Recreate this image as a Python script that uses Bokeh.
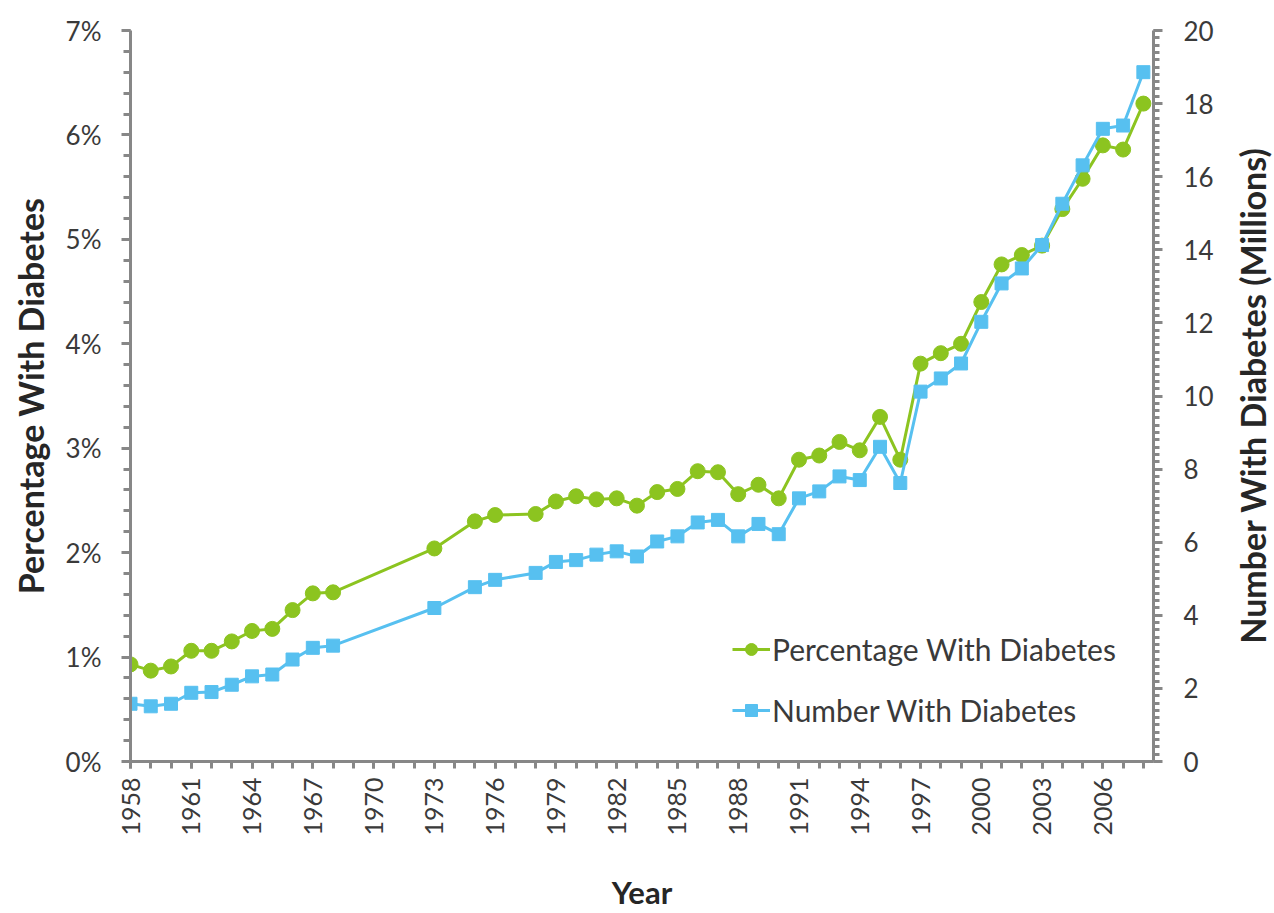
from bokeh.plotting import figure
from bokeh.layouts import row
from bokeh.models import (Range1d, LinearAxis, FixedTicker, PrintfTickFormatter,
                          Legend, LegendItem, ColumnDataSource)
from bokeh.core.properties import value
from bokeh.embed import file_html
from bokeh.resources import INLINE
import math

# ---------------- data ----------------
years = [1958, 1959, 1960, 1961, 1962, 1963, 1964, 1965, 1966, 1967, 1968,
         1973, 1975, 1976,
         1978, 1979, 1980, 1981, 1982, 1983, 1984, 1985, 1986, 1987, 1988,
         1989, 1990, 1991, 1992, 1993, 1994, 1995, 1996, 1997, 1998, 1999,
         2000, 2001, 2002, 2003, 2004, 2005, 2006, 2007, 2008]
pct_with_diabetes = [0.93, 0.87, 0.91, 1.06, 1.06, 1.15, 1.25, 1.27, 1.45, 1.61, 1.62,
                     2.04, 2.30, 2.36,
                     2.37, 2.49, 2.54, 2.51, 2.52, 2.45, 2.58, 2.61, 2.78, 2.77, 2.56,
                     2.65, 2.52, 2.89, 2.93, 3.06, 2.98, 3.30, 2.89, 3.81, 3.91, 4.00,
                     4.40, 4.76, 4.85, 4.94, 5.29, 5.58, 5.90, 5.86, 6.30]
num_with_diabetes = [1.58, 1.51, 1.58, 1.88, 1.90, 2.10, 2.33, 2.38, 2.79, 3.11, 3.17,
                     4.20, 4.77, 4.97,
                     5.16, 5.46, 5.51, 5.66, 5.75, 5.61, 6.02, 6.16, 6.54, 6.61, 6.16,
                     6.50, 6.22, 7.20, 7.39, 7.80, 7.70, 8.61, 7.62, 10.12, 10.48, 10.89,
                     12.03, 13.08, 13.49, 14.13, 15.26, 16.31, 17.31, 17.40, 18.86]

x_tick_years = list(range(1958, 2007, 3))
x_minor_years = list(range(1958, 2009))
left_ticks = [0, 1, 2, 3, 4, 5, 6, 7]
right_ticks = [0, 2, 4, 6, 8, 10, 12, 14, 16, 18, 20]

series_names = ["Percentage With Diabetes", "Number With Diabetes"]
x_title = "Year"
left_title = "Percentage With Diabetes"
right_title = "Number With Diabetes (Millions)"

# ---------------- style ----------------
GREEN = "#8CC420"
BLUE = "#57C0F0"
AXIS = "#878787"
TXT = "#3a3a3a"
TITLE = "#262626"
FONT = "Lato"

src = ColumnDataSource(dict(year=years, pct=pct_with_diabetes, num=num_with_diabetes))

MAIN_W = 1224
SIDE_W = 50
H = 913

p = figure(width=MAIN_W, height=H, output_backend="svg", toolbar_location=None,
           x_range=Range1d(1958, 2008.5), y_range=Range1d(0, 7),
           min_border_left=130, min_border_right=MAIN_W - 1153, min_border_top=30,
           min_border_bottom=151)
p.extra_y_ranges = {"num": Range1d(0, 20)}
p.outline_line_color = None
p.xgrid.visible = False
p.ygrid.visible = False
p.background_fill_color = "white"
p.border_fill_color = "white"

def style_axis(ax):
    ax.axis_line_color = AXIS
    ax.axis_line_width = 3
    ax.major_tick_line_color = AXIS
    ax.minor_tick_line_color = AXIS
    ax.major_tick_line_width = 3
    ax.minor_tick_line_width = 3
    ax.major_tick_in = 0
    ax.minor_tick_in = 0
    ax.major_label_text_font = FONT
    ax.major_label_text_color = TXT
    ax.major_label_text_font_size = "26px"
    ax.axis_label_text_font = FONT
    ax.axis_label_text_font_style = "bold"
    ax.axis_label_text_color = TITLE
    ax.axis_label_text_font_size = "33px"

# bottom axis
xa = p.xaxis[0]
style_axis(xa)
xa.ticker = FixedTicker(ticks=x_tick_years, minor_ticks=x_minor_years)
xa.major_tick_out = 7
xa.minor_tick_out = 7
xa.major_label_orientation = math.pi / 2
xa.major_label_standoff = 9
xa.major_label_text_font_size = "25px"
xa.axis_label = x_title
xa.axis_label_text_font_size = "31px"
xa.axis_label_standoff = 34

# left axis
ya = p.yaxis[0]
style_axis(ya)
ya.ticker = FixedTicker(ticks=left_ticks,
                        minor_ticks=[round(i * 0.2, 1) for i in range(0, 36)])
ya.formatter = PrintfTickFormatter(format="%d%%")
ya.major_tick_out = 9
ya.minor_tick_out = 7
ya.major_label_standoff = 20
ya.axis_label = left_title
ya.axis_label_text_font_size = "34px"
ya.axis_label_standoff = 12

# right axis (its title is drawn in the narrow strip to the right)
ra = LinearAxis(y_range_name="num")
style_axis(ra)
ra.ticker = FixedTicker(ticks=right_ticks,
                        minor_ticks=[round(i * 0.2, 1) for i in range(0, 101)])
ra.major_tick_out = 9
ra.minor_tick_out = 6
ra.major_label_standoff = 21
p.add_layout(ra, "right")

# series
l1 = p.line("year", "pct", source=src, line_color=GREEN, line_width=3)
s1 = p.scatter("year", "pct", source=src, marker="circle", size=15,
               fill_color=GREEN, line_color=GREEN)
l2 = p.line("year", "num", source=src, y_range_name="num", line_color=BLUE, line_width=3)
s2 = p.scatter("year", "num", source=src, y_range_name="num", marker="square", size=13,
               fill_color=BLUE, line_color=BLUE)

legend = Legend(items=[LegendItem(label=series_names[0], renderers=[l1, s1]),
                       LegendItem(label=series_names[1], renderers=[l2, s2])],
                location=(602, 33))
legend.border_line_color = None
legend.background_fill_alpha = 0
legend.padding = 0
legend.margin = 0
legend.glyph_width = 38
legend.glyph_height = 30
legend.label_height = 30
legend.spacing = 25
legend.label_standoff = 2
legend.label_text_font = FONT
legend.label_text_font_size = "30px"
legend.label_text_color = TXT
p.add_layout(legend, "center")

# narrow strip holding the right-hand axis title, reading bottom to top
side = figure(frame_width=SIDE_W, frame_height=H, output_backend="svg",
              toolbar_location=None, title=None,
              x_range=Range1d(0, SIDE_W), y_range=Range1d(0, H),
              x_axis_type=None, y_axis_type=None,
              min_border_left=0, min_border_right=0, min_border_top=0,
              min_border_bottom=0)
side.outline_line_color = None
side.xgrid.visible = False
side.ygrid.visible = False
side.text(x=[28], y=[H - 365], text=[right_title], angle=math.pi / 2,
          text_align="center", text_baseline="middle", text_font=value(FONT),
          text_font_style="bold", text_font_size="34px", text_color=TITLE)

layout = row(p, side, spacing=0)
open("out.html", "w").write(file_html(layout, INLINE))
